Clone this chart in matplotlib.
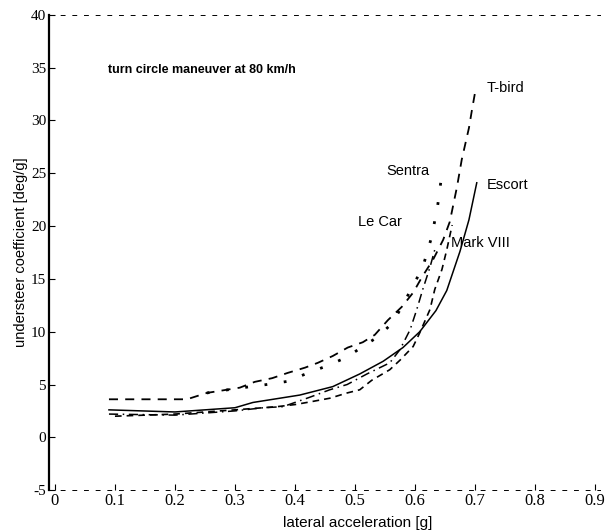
import matplotlib
matplotlib.use("Agg")
import matplotlib.pyplot as plt

# understeer coefficient vs lateral acceleration
tbird_x = [0.09, 0.22, 0.253, 0.308, 0.333, 0.362, 0.388, 0.417, 0.438, 0.463, 0.488,
           0.513, 0.533, 0.555, 0.578, 0.597, 0.612, 0.630, 0.647, 0.658, 0.670,
           0.678, 0.690, 0.695, 0.700]
tbird_y = [3.6, 3.6, 4.2, 4.7, 5.25, 5.6, 6.1, 6.6, 7.05, 7.7, 8.5,
           9.0, 9.7, 11.1, 12.35, 13.7, 15.2, 16.8, 18.7, 20.4, 23.7,
           26.3, 29.3, 31.0, 32.6]

sentra_x = [0.253, 0.30, 0.353, 0.388, 0.422, 0.455, 0.487, 0.513, 0.538, 0.562,
            0.578, 0.613, 0.628, 0.638, 0.645]
sentra_y = [4.2, 4.6, 5.0, 5.3, 6.1, 6.8, 7.6, 8.6, 9.5, 10.8,
            12.35, 16.1, 19.0, 22.0, 25.0]

escort_x = [0.09, 0.20, 0.30, 0.33, 0.408, 0.463, 0.508, 0.547, 0.580, 0.608,
            0.635, 0.653, 0.675, 0.690, 0.703]
escort_y = [2.6, 2.4, 2.8, 3.3, 4.0, 4.8, 6.0, 7.2, 8.5, 10.0,
            12.0, 13.9, 17.6, 20.6, 24.1]

lecar_x = [0.09, 0.20, 0.30, 0.347, 0.38, 0.425, 0.458, 0.487, 0.52, 0.558,
           0.575, 0.592, 0.603, 0.613, 0.625, 0.633]
lecar_y = [2.2, 2.1, 2.5, 2.8, 2.9, 3.8, 4.5, 5.0, 6.0, 7.05,
           8.3, 10.2, 12.1, 14.0, 16.1, 17.75]

mark_x = [0.10, 0.20, 0.30, 0.37, 0.40, 0.425, 0.458, 0.487, 0.508, 0.528,
          0.558, 0.575, 0.597, 0.608, 0.625, 0.633, 0.645, 0.653, 0.662]
mark_y = [2.0, 2.2, 2.6, 2.9, 3.1, 3.35, 3.7, 4.2, 4.5, 5.4,
          6.4, 7.3, 8.6, 9.9, 12.1, 14.0, 15.9, 17.75, 20.1]

xticks = [0, 0.1, 0.2, 0.3, 0.4, 0.5, 0.6, 0.7, 0.8, 0.9]
yticks = [-5, 0, 5, 10, 15, 20, 25, 30, 35, 40]

fig = plt.figure(figsize=(6.12, 5.31), dpi=100)
ax = fig.add_axes([0.080, 0.077, 0.900, 0.895])

ax.plot(tbird_x, tbird_y, color='black', lw=1.3, linestyle=(0, (5, 4)))
ax.plot(sentra_x, sentra_y, color='black', lw=2.0, linestyle=(0, (1, 6)))
ax.plot(escort_x, escort_y, color='black', lw=1.1, linestyle='-')
ax.plot(lecar_x, lecar_y, color='black', lw=1.1, linestyle=(0, (6, 3, 1, 3)))
ax.plot(mark_x, mark_y, color='black', lw=1.2, linestyle=(0, (4, 3)))

sans = 'Liberation Sans'
ax.text(0.088, 34.8, 'turn circle maneuver at 80 km/h', fontsize=9,
        fontweight='bold', family=sans, va='center')
ax.text(0.72, 33.1, 'T-bird', fontsize=10.5, family=sans, va='center')
ax.text(0.625, 25.2, 'Sentra', fontsize=10.5, family=sans, va='center', ha='right')
ax.text(0.72, 23.9, 'Escort', fontsize=10.5, family=sans, va='center')
ax.text(0.505, 20.4, 'Le Car', fontsize=10.5, family=sans, va='center')
ax.text(0.66, 18.4, 'Mark VIII', fontsize=10.5, family=sans, va='center')

ax.set_xlim(-0.01, 0.908)
ax.set_ylim(-5, 40)
ax.set_xticks(xticks)
ax.set_xticklabels([f'{t:g}' for t in xticks], family='Liberation Serif', fontsize=12)
ax.set_yticks(yticks)
ax.set_yticklabels([str(t) for t in yticks], family='Liberation Serif', fontsize=11)
ax.tick_params(direction='in', length=4, width=0.8, pad=2)

ax.set_xlabel('lateral acceleration [g]', fontsize=11, family=sans, labelpad=0)
ax.xaxis.set_label_coords(0.56, -0.055)
ax.set_ylabel('understeer coefficient [deg/g]', fontsize=10.5, family=sans, labelpad=2)

ax.spines['right'].set_visible(False)
ax.spines['left'].set_linewidth(1.6)
for side in ['top', 'bottom']:
    ax.spines[side].set_linestyle((0, (4, 8)))
    ax.spines[side].set_linewidth(0.7)

fig.savefig('out.png', dpi=100)
